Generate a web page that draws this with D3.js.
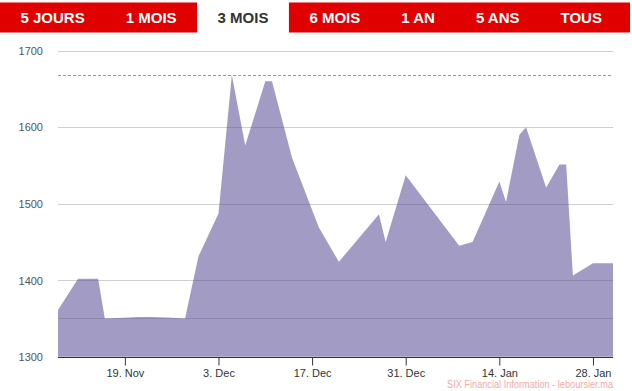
<!DOCTYPE html>
<html>
<head>
<meta charset="utf-8">
<script src="https://cdn.jsdelivr.net/npm/d3@7"></script>
<style>
  html, body { margin: 0; padding: 0; background: #fff; }
  svg { display: block; font-family: Arial, "Liberation Sans", sans-serif; }
</style>
</head>
<body>
<svg id="chart" width="632" height="391"></svg>
<script>
// ---- data ----
const tabLabels = ["5 JOURS", "1 MOIS", "3 MOIS", "6 MOIS", "1 AN", "5 ANS", "TOUS"];
const activeTab = "3 MOIS";

const dates = [
  "2018-11-09", "2018-11-12", "2018-11-15", "2018-11-16", "2018-11-19", "2018-11-21",
  "2018-11-23", "2018-11-26", "2018-11-28", "2018-11-30", "2018-12-03", "2018-12-05",
  "2018-12-07", "2018-12-10", "2018-12-11", "2018-12-14", "2018-12-18", "2018-12-21",
  "2018-12-27", "2018-12-28", "2018-12-31", "2019-01-08", "2019-01-10", "2019-01-14",
  "2019-01-15", "2019-01-17", "2019-01-18", "2019-01-21", "2019-01-23", "2019-01-24",
  "2019-01-25", "2019-01-28", "2019-01-31"
];
const prices = [
  1361, 1402, 1402, 1350, 1351, 1352,
  1352, 1351, 1350, 1431, 1487, 1668,
  1576, 1660, 1660, 1560, 1469, 1424,
  1486, 1450, 1537, 1445, 1450, 1529,
  1502, 1590, 1600, 1521, 1551, 1551,
  1406, 1422, 1422
];

const yTicks = [1300, 1400, 1500, 1600, 1700];
const gridValues = [1350, 1400, 1500, 1600, 1700];
const xTickDates = ["2018-11-19", "2018-12-03", "2018-12-17", "2018-12-31", "2019-01-14", "2019-01-28"];
const credit = "SIX Financial Information - leboursier.ma";

// ---- build ----
const parse = d3.utcParse("%Y-%m-%d");
const series = dates.map((d, i) => ({ date: parse(d), value: prices[i] }));

const svg = d3.select("#chart");
const mLeft = 58, mRight = 613, mTop = 50.6, mBottom = 356.7;

const x = d3.scaleUtc()
  .domain(d3.extent(series, d => d.date))
  .range([mLeft, mRight]);
const y = d3.scaleLinear()
  .domain([1300, 1700])
  .range([mBottom, mTop]);

// tabs
const tabsG = svg.append("g");
tabsG.append("rect").attr("x", 0).attr("y", 2.5).attr("width", 630).attr("height", 30).attr("fill", "#e00000");
let cursor = 0;
const pad = 20.5;
tabLabels.forEach(lbl => {
  const t = tabsG.append("text")
    .attr("y", 23)
    .attr("font-size", 15)
    .attr("font-weight", "bold")
    .attr("text-anchor", "middle")
    .attr("fill", lbl === activeTab ? "#333" : "#fff")
    .text(lbl);
  const w = t.node().getComputedTextLength();
  const bw = w + 2 * pad;
  if (lbl === activeTab) {
    tabsG.insert("rect", "text")
      .attr("x", cursor).attr("y", 0).attr("width", bw).attr("height", 34)
      .attr("fill", "#fff");
  }
  t.attr("x", cursor + bw / 2);
  cursor += bw;
});

// grid lines
svg.append("g").selectAll("line").data(gridValues).join("line")
  .attr("x1", mLeft).attr("x2", mRight)
  .attr("y1", d => Math.round(y(d)) + 0.5).attr("y2", d => Math.round(y(d)) + 0.5)
  .attr("stroke", "#d0d0d0").attr("stroke-width", 1);

// area
const area = d3.area()
  .x(d => x(d.date))
  .y0(y(1300))
  .y1(d => y(d.value));
svg.append("path").datum(series)
  .attr("d", area)
  .attr("fill", "rgb(85,75,150)")
  .attr("fill-opacity", 0.55);

// max dashed line
const maxV = d3.max(series, d => d.value);
svg.append("line")
  .attr("x1", mLeft).attr("x2", mRight)
  .attr("y1", Math.round(y(maxV)) + 0.5).attr("y2", Math.round(y(maxV)) + 0.5)
  .attr("stroke", "#999").attr("stroke-width", 1).attr("stroke-dasharray", "3,2");

// y axis labels
const yAxis = d3.axisLeft(y).tickValues(yTicks).tickSize(0).tickPadding(0).tickFormat(d3.format("d"));
const yg = svg.append("g").attr("transform", `translate(${mLeft - 15},0)`).call(yAxis);
yg.select(".domain").remove();
yg.selectAll("text").attr("font-size", 11).attr("fill", "#555").attr("font-family", "Arial, 'Liberation Sans', sans-serif").attr("dy", "0.35em");

// x axis
const fmt = d => `${d.getUTCDate()}. ${d3.utcFormat("%b")(d)}`;
const xAxis = d3.axisBottom(x).tickValues(xTickDates.map(parse)).tickSize(8).tickPadding(4).tickFormat(fmt);
const xg = svg.append("g").attr("transform", `translate(0,${Math.round(mBottom) + 0.5})`).call(xAxis);
xg.select(".domain").attr("d", `M${mLeft},0H${mRight}`).attr("stroke", "#333");
xg.selectAll(".tick line").attr("stroke", "#333");
xg.selectAll("text").attr("font-size", 11).attr("fill", "#333").attr("font-family", "Arial, 'Liberation Sans', sans-serif");

// credit
svg.append("text")
  .attr("x", mRight).attr("y", 388)
  .attr("text-anchor", "end")
  .attr("font-size", 10)
  .attr("fill", "#f5aaaa")
  .attr("textLength", 166).attr("lengthAdjust", "spacingAndGlyphs")
  .text(credit);
</script>
</body>
</html>
